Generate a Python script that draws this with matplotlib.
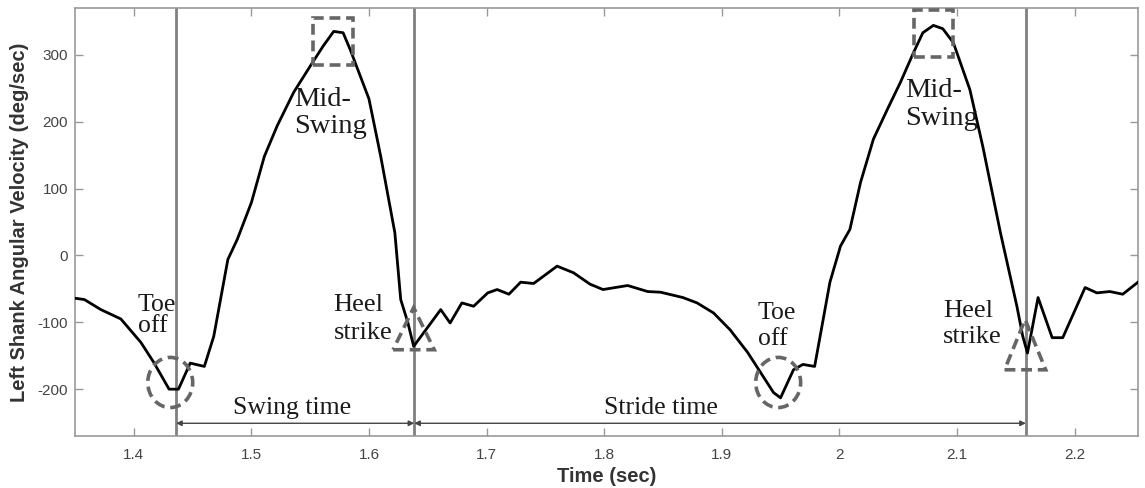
import matplotlib.pyplot as plt
import matplotlib.patches as mpatches
import numpy as np

plt.rcParams['axes.unicode_minus'] = False

# shank angular velocity trace
time_s = [1.350, 1.358, 1.372, 1.389, 1.406, 1.417, 1.430, 1.438, 1.448, 1.460,
          1.468, 1.480, 1.488, 1.500, 1.511, 1.522, 1.536, 1.550, 1.561, 1.570,
          1.578, 1.584, 1.600, 1.610, 1.622, 1.627, 1.633, 1.638, 1.661, 1.669,
          1.679, 1.689, 1.701, 1.709, 1.719, 1.729, 1.740, 1.760, 1.774, 1.788,
          1.799, 1.820, 1.837, 1.848, 1.867, 1.879, 1.893, 1.907, 1.922, 1.933,
          1.944, 1.950, 1.961, 1.969, 1.979, 1.992, 2.001, 2.009, 2.018, 2.029,
          2.041, 2.052, 2.063, 2.071, 2.080, 2.088, 2.097, 2.111, 2.122, 2.137,
          2.151, 2.156, 2.160, 2.169, 2.181, 2.190, 2.209, 2.219, 2.230, 2.241,
          2.254]
velocity = [-64, -66, -81, -95, -130, -160, -200, -200, -161, -166,
            -121, -6, 24, 79, 148, 194, 244, 283, 313, 335,
            333, 308, 234, 148, 34, -66, -100, -136, -81, -101,
            -71, -76, -56, -51, -58, -40, -42, -16, -26, -43,
            -51, -45, -54, -55, -63, -71, -86, -111, -145, -175,
            -205, -213, -171, -163, -166, -40, 14, 39, 109, 174,
            219, 259, 303, 333, 344, 339, 318, 248, 163, 34,
            -76, -121, -146, -63, -123, -123, -48, -56, -54, -58,
            -40]

# gait events
event_times = [1.436, 1.6385, 2.1586]
toe_off = [(1.431, -190), (1.948, -190)]
mid_swing = [(1.5693, 320), (2.080, 332)]
heel_strike = [(1.638, -78, -141), (2.158, -96, -171)]

xticks = [1.4, 1.5, 1.6, 1.7, 1.8, 1.9, 2.0, 2.1, 2.2]
xticklabels = ['1.4', '1.5', '1.6', '1.7', '1.8', '1.9', '2', '2.1', '2.2']
yticks = [-200, -100, 0, 100, 200, 300]

fig = plt.figure(figsize=(11.45, 4.88), dpi=100)
ax = fig.add_axes([0.0655, 0.1066, 0.9284, 0.877])

ax.plot(time_s, velocity, color='black', lw=2.0, zorder=3)
for t in event_times:
    ax.axvline(t, color='#808080', lw=2.0, zorder=2)

dash = dict(fill=False, edgecolor='#666666', lw=2.6, linestyle=(0, (3, 1.6)), zorder=4)
for cx, cy in toe_off:
    ax.add_patch(mpatches.Ellipse((cx, cy), 0.0382, 75, **dash))
for cx, cy in mid_swing:
    ax.add_patch(mpatches.Rectangle((cx - 0.0167, cy - 35), 0.0334, 70, **dash))
for tx, top, base in heel_strike:
    ax.add_patch(mpatches.Polygon([(tx - 0.0175, base), (tx + 0.0175, base), (tx, top)],
                                  closed=True, **dash))

serif = dict(family='Liberation Serif', color='#1a1a1a')
ax.text(1.4034, -58, 'Toe\noff', ha='left', va='top', fontsize=18.5, linespacing=0.95, **serif)
ax.text(1.9305, -70, 'Toe\noff', ha='left', va='top', fontsize=18.5, linespacing=1.25, **serif)
ax.text(1.536, 252, 'Mid-\nSwing', ha='left', va='top', fontsize=20.5, linespacing=1.1, **serif)
ax.text(2.056, 266, 'Mid-\nSwing', ha='left', va='top', fontsize=20.5, linespacing=1.2, **serif)
ax.text(1.570, -58, 'Heel\nstrike', ha='left', va='top', fontsize=19, linespacing=1.35, **serif)
ax.text(2.088, -66, 'Heel\nstrike', ha='left', va='top', fontsize=19, linespacing=1.25, **serif)
ax.text(1.535, -237, 'Swing time', ha='center', va='baseline', fontsize=18.5, **serif)
ax.text(1.848, -237, 'Stride time', ha='center', va='baseline', fontsize=18.5, **serif)

arrow = dict(arrowstyle='<|-|>', color='#444444', lw=1.0, mutation_scale=8, shrinkA=0, shrinkB=0)
ax.annotate('', xy=(event_times[0], -251), xytext=(event_times[1], -251), arrowprops=arrow)
ax.annotate('', xy=(event_times[1], -251), xytext=(event_times[2], -251), arrowprops=arrow)

ax.set_xlim(1.35, 2.254)
ax.set_ylim(-270, 370)
ax.set_xticks(xticks)
ax.set_xticklabels(xticklabels)
ax.set_yticks(yticks)
ax.tick_params(direction='in', length=6, width=1, color='#999999', labelcolor='#444444',
               labelsize=11, top=True, right=True)
ax.tick_params(axis='x', pad=9)
ax.tick_params(axis='y', pad=5)
for s in ax.spines.values():
    s.set_color('#999999')
    s.set_linewidth(1.2)

ax.set_xlabel('Time (sec)', fontsize=14.5, fontweight='bold', color='#333333', labelpad=3,
              family='Liberation Sans')
ax.set_ylabel('Left Shank Angular Velocity (deg/sec)', fontsize=14.5, fontweight='bold',
              color='#333333', family='Liberation Sans', labelpad=6)
for lab in ax.get_xticklabels() + ax.get_yticklabels():
    lab.set_family('Liberation Sans')

fig.savefig('out.png', dpi=100)
